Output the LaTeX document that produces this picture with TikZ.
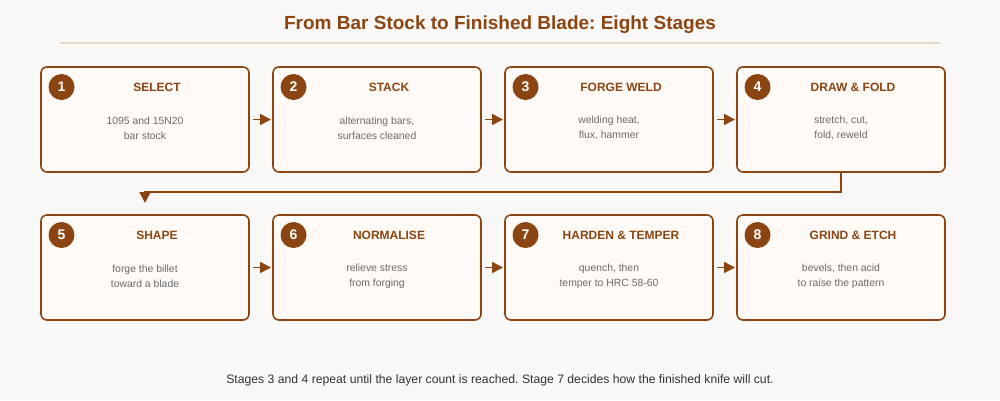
\documentclass[tikz,border=0pt]{standalone}
\usepackage{fontspec}
\setmainfont{Liberation Sans}
\usetikzlibrary{positioning,arrows.meta}
\frenchspacing

\definecolor{rust}{HTML}{8B4513}
\definecolor{paper}{HTML}{FAF8F6}
\definecolor{cardfill}{HTML}{FFFAF6}
\definecolor{rulebeige}{HTML}{E8D8C8}
\definecolor{bodygrey}{HTML}{6A6A6A}
\definecolor{notegrey}{HTML}{333333}

\begin{document}
\begin{tikzpicture}[x=1pt,y=-1pt,
    stage/.style={draw=rust, line width=1.6pt, fill=cardfill, rounded corners=6pt,
        minimum width=208pt, minimum height=105pt, inner sep=0pt, outer sep=0pt},
    badge/.style={circle, fill=rust, minimum size=26pt, inner sep=0pt,
        text=white, font=\fontsize{14}{14}\selectfont\bfseries},
    heading/.style={text=rust, font=\fontsize{12}{12}\selectfont\bfseries},
    detail/.style={text=bodygrey, align=center, font=\fontsize{10.4}{15}\selectfont},
    flow/.style={draw=rust, line width=1.6pt, -{Triangle[width=11pt,length=11pt]}}]

    \fill[paper] (0,0) rectangle (1000,400);
    \useasboundingbox (0,0) rectangle (1000,400);

    \node[text=rust, font=\fontsize{19}{19}\selectfont\bfseries] (title) at (500,25)
        {From Bar Stock to Finished Blade: Eight Stages};
    \draw[rulebeige, line width=1.5pt] (60,43) -- (940,43);

    % first row
    \node[stage] (s1) at (145,119.5) {};
    \node[stage, right=24pt of s1] (s2) {};
    \node[stage, right=24pt of s2] (s3) {};
    \node[stage, right=24pt of s3] (s4) {};
    % second row
    \node[stage, below=43pt of s1] (s5) {};
    \node[stage, right=24pt of s5] (s6) {};
    \node[stage, right=24pt of s6] (s7) {};
    \node[stage, right=24pt of s7] (s8) {};

    \node[badge] (b1) at ([xshift=20.5pt,yshift=-20pt]s1.north west) {1};
    \node[badge] (b2) at ([xshift=20.5pt,yshift=-20pt]s2.north west) {2};
    \node[badge] (b3) at ([xshift=20.5pt,yshift=-20pt]s3.north west) {3};
    \node[badge] (b4) at ([xshift=20.5pt,yshift=-20pt]s4.north west) {4};
    \node[badge] (b5) at ([xshift=20.5pt,yshift=-20pt]s5.north west) {5};
    \node[badge] (b6) at ([xshift=20.5pt,yshift=-20pt]s6.north west) {6};
    \node[badge] (b7) at ([xshift=20.5pt,yshift=-20pt]s7.north west) {7};
    \node[badge] (b8) at ([xshift=20.5pt,yshift=-20pt]s8.north west) {8};

    \node[heading] (h1) at ([xshift=12pt,yshift=-20pt]s1.north) {SELECT};
    \node[heading] (h2) at ([xshift=12pt,yshift=-20pt]s2.north) {STACK};
    \node[heading] (h3) at ([xshift=12pt,yshift=-20pt]s3.north) {FORGE WELD};
    \node[heading] (h4) at ([xshift=12pt,yshift=-20pt]s4.north) {DRAW \& FOLD};
    \node[heading] (h5) at ([xshift=12pt,yshift=-20pt]s5.north) {SHAPE};
    \node[heading] (h6) at ([xshift=12pt,yshift=-20pt]s6.north) {NORMALISE};
    \node[heading] (h7) at ([xshift=12pt,yshift=-20pt]s7.north) {HARDEN \& TEMPER};
    \node[heading] (h8) at ([xshift=12pt,yshift=-20pt]s8.north) {GRIND \& ETCH};

    \node[detail] (d1) at ([yshift=-8.5pt]s1.center) {1095 and 15N20\\bar stock};
    \node[detail] (d2) at ([yshift=-8.5pt]s2.center) {alternating bars,\\surfaces cleaned};
    \node[detail] (d3) at ([yshift=-8.5pt]s3.center) {welding heat,\\flux, hammer};
    \node[detail] (d4) at ([yshift=-8.5pt]s4.center) {stretch, cut,\\fold, reweld};
    \node[detail] (d5) at ([yshift=-8.5pt]s5.center) {forge the billet\\toward a blade};
    \node[detail] (d6) at ([yshift=-8.5pt]s6.center) {relieve stress\\from forging};
    \node[detail] (d7) at ([yshift=-8.5pt]s7.center) {quench, then\\temper to HRC 58-60};
    \node[detail] (d8) at ([yshift=-8.5pt]s8.center) {bevels, then acid\\to raise the pattern};

    % connectors
    \draw[flow] ([xshift=4pt]s1.east) -- ([xshift=-2pt]s2.west);
    \draw[flow] ([xshift=4pt]s2.east) -- ([xshift=-2pt]s3.west);
    \draw[flow] ([xshift=4pt]s3.east) -- ([xshift=-2pt]s4.west);
    \coordinate (drop) at ([yshift=12pt]s5.north);
    \draw[flow] (s4.south) -- ++(0,20) -| (drop);
    \draw[flow] ([xshift=4pt]s5.east) -- ([xshift=-2pt]s6.west);
    \draw[flow] ([xshift=4pt]s6.east) -- ([xshift=-2pt]s7.west);
    \draw[flow] ([xshift=4pt]s7.east) -- ([xshift=-2pt]s8.west);

    \node[text=notegrey, font=\fontsize{12.2}{12.2}\selectfont] (note) at (500,380)
        {Stages 3 and 4 repeat until the layer count is reached. Stage 7 decides how the finished knife will cut.};
\end{tikzpicture}
\end{document}
